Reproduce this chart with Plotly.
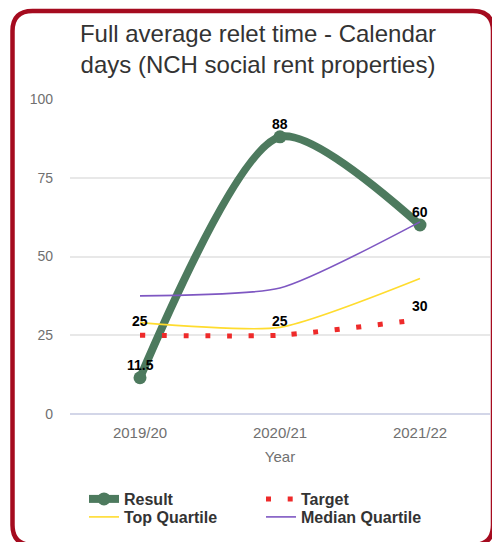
import plotly.graph_objects as go

# ---- data ----
years = ["2019/20", "2020/21", "2021/22"]
result = [11.5, 88, 60]
target = [25, 25, 30]
top_quartile = [29, 27.5, 43]
median_quartile = [37.5, 40, 61]
y_ticks = [0, 25, 50, 75, 100]

# ---- layout constants (pixels) ----
W, H = 492, 542
ML, MR, MT, MB = 70, 2, 99, 128
PW, PH = W - ML - MR, H - MT - MB
FONT = "Liberation Sans, Arial, sans-serif"


def px_x(x):
    return (x - ML) / PW


def px_y(y):
    return (H - MB - y) / PH


fig = go.Figure()

fig.add_trace(go.Scatter(
    x=years, y=result, name="Result", mode="lines+markers",
    line=dict(color="#4d7a5e", width=8, shape="spline", smoothing=0.75),
    marker=dict(color="#4d7a5e", size=13),
    legend="legend",
))
fig.add_trace(go.Scatter(
    x=years, y=target, name="Target", mode="lines",
    line=dict(color="#ee2a2a", width=5, shape="spline", smoothing=0.5,
              dash="5px,16.7px"),
    legend="legend",
))
fig.add_trace(go.Scatter(
    x=years, y=top_quartile, name="Top Quartile", mode="lines",
    line=dict(color="#ffdc2e", width=1.6, shape="spline", smoothing=0.6),
    legend="legend2",
))
fig.add_trace(go.Scatter(
    x=years, y=median_quartile, name="Median Quartile", mode="lines",
    line=dict(color="#7e57c2", width=1.6, shape="spline", smoothing=0.6),
    legend="legend2",
))

# value labels
annotations = []
for series, shift in ((result, 13), (target, 14)):
    for yr, v in zip(years, series):
        annotations.append(dict(
            x=yr, y=v, xref="x", yref="y", text=f"{v:g}", showarrow=False,
            yanchor="middle", yshift=shift,
            font=dict(family=FONT, size=14, color="#000000", weight="bold"),
        ))

# rounded card outline
x0, y0, x1, y1, r = 12.5, 11, 493, 545, 20
pts = [
    ("M", x0 + r, y0), ("L", x1 - r, y0), ("Q", x1, y0, x1, y0 + r),
    ("L", x1, y1 - r), ("Q", x1, y1, x1 - r, y1),
    ("L", x0 + r, y1), ("Q", x0, y1, x0, y1 - r),
    ("L", x0, y0 + r), ("Q", x0, y0, x0 + r, y0),
]
path = ""
for p in pts:
    cmd, coords = p[0], p[1:]
    parts = []
    for i in range(0, len(coords), 2):
        parts.append(f"{px_x(coords[i]):.5f},{px_y(coords[i + 1]):.5f}")
    path += cmd + " ".join(parts) + " "
path += "Z"

fig.update_layout(
    width=W, height=H,
    margin=dict(l=ML, r=MR, t=MT, b=MB, autoexpand=False),
    paper_bgcolor="white", plot_bgcolor="white",
    font=dict(family=FONT, color="#333333"),
    title=dict(
        text="Full average relet time - Calendar<br>days (NCH social rent properties)",
        x=258 / W, xanchor="center", xref="container",
        y=1 - 42 / H, yanchor="top", yref="container",
        font=dict(family=FONT, size=24, color="#333333"),
    ),
    xaxis=dict(
        type="category", range=[-0.5, 2.5], showgrid=False, zeroline=False,
        showline=False, ticks="", ticklabelstandoff=8,
        tickfont=dict(family=FONT, size=15, color="#707070"),
        title=dict(text="Year", standoff=11,
                   font=dict(family=FONT, size=15, color="#707070")),
    ),
    yaxis=dict(
        range=[0, 100], tickvals=y_ticks, showgrid=True, gridcolor="#e8e8e8",
        gridwidth=2, zeroline=True, zerolinecolor="#d3d6e8", zerolinewidth=2,
        showline=False, ticks="", ticklabelstandoff=16,
        tickfont=dict(family=FONT, size=14, color="#707070"),
    ),
    legend=dict(
        orientation="h", x=px_x(84), y=px_y(499), xanchor="left", yanchor="middle",
        entrywidth=132, bgcolor="rgba(0,0,0,0)",
        font=dict(family=FONT, size=16, color="#333333", weight="bold"),
    ),
    legend2=dict(
        orientation="h", x=px_x(84), y=px_y(517), xanchor="left", yanchor="middle",
        entrywidth=132, bgcolor="rgba(0,0,0,0)",
        font=dict(family=FONT, size=16, color="#333333", weight="bold"),
    ),
    shapes=[dict(
        type="path", path=path, xref="paper", yref="paper",
        line=dict(color="#a50b1f", width=4.5), fillcolor="rgba(0,0,0,0)",
        layer="above",
    )],
    annotations=annotations,
)

fig.write_html("out.html")
